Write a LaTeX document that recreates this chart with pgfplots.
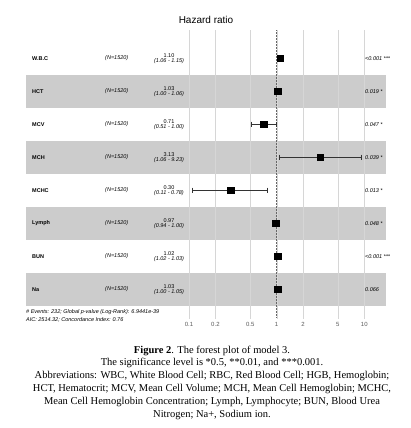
\documentclass[border=0pt]{standalone}
\usepackage{fontspec}
\setmainfont{Liberation Sans}
\newfontfamily\capfont{Liberation Serif}
\usepackage{pgfplots}
\usepackage{pgfplotstable}
\pgfplotsset{compat=1.18}

\definecolor{band}{RGB}{204,204,204}
\definecolor{gridc}{RGB}{214,214,214}

% hazard ratios, one row per variable (8 = top row)
\pgfplotstableread{
row hr
8 1.10
7 1.03
6 0.71
5 3.13
4 0.30
3 0.97
2 1.02
1 1.03
}\hrdata

% confidence intervals, segments separated by nan
\pgfplotstableread{
x y
1.06 8
1.15 8
nan nan
1.00 7
1.06 7
nan nan
0.51 6
1.00 6
nan nan
1.06 5
9.23 5
nan nan
0.11 4
0.78 4
nan nan
0.94 3
1.00 3
nan nan
1.02 2
1.03 2
nan nan
1.00 1
1.05 1
}\cidata

\newcommand{\rowy}[1]{109+(#1-0.1)*33}
\newcommand{\rowfont}{\fontsize{5.5}{6}\selectfont}

\begin{document}
\begin{tikzpicture}[x=1pt,y=1pt]
\path[use as bounding box] (0,0) rectangle (411,428);

% shaded rows
\foreach \r in {7,5,3,1}
  \fill[band] (26,{\rowy{\r}-16.5}) rectangle (386,{\rowy{\r}+16.5});

\begin{axis}[
    at={(26pt,109pt)}, anchor=south west,
    scale only axis, width=360pt, height=289pt,
    xmode=log, xmin=0.001378, xmax=17.69,
    ymin=0.1, ymax=8.86,
    xtick={0.1,0.2,0.5,1,2,5,10},
    xticklabels={0.1,0.2,0.5,1,2,5,10},
    ytick=\empty,
    xmajorgrids,
    major grid style={gridc, line width=0.3pt},
    axis line style={draw=none},
    tick style={draw=none},
    xticklabel style={font=\fontsize{6}{7}\selectfont, text=black!65, inner sep=0pt, yshift=-3pt},
    clip=false,
]
\addplot[black!60, densely dotted, line width=0.5pt] coordinates {(1,0.16) (1,8.86)};
\addplot[black!80, line width=0.5pt, mark=|, mark size=2.6pt, unbounded coords=jump] table[x=x,y=y] {\cidata};
\addplot[only marks, mark=square*, mark size=3.3pt, black] table[x=hr,y=row] {\hrdata};
\end{axis}

\node[font=\fontsize{10}{12}\selectfont] at (206,408) {Hazard ratio};

\foreach \r/\nm/\hr/\ci/\p in {
    8/W.B.C/1.10/1.06 - 1.15/{<0.001 ***},
    7/HCT/1.03/1.00 - 1.06/{0.019 *},
    6/MCV/0.71/0.51 - 1.00/{0.047 *},
    5/MCH/3.13/1.06 - 9.23/{0.039 *},
    4/MCHC/0.30/0.11 - 0.78/{0.013 *},
    3/Lymph/0.97/0.94 - 1.00/{0.048 *},
    2/BUN/1.02/1.02 - 1.03/{<0.001 ***},
    1/Na/1.03/1.00 - 1.05/{0.066}} {
  \node[anchor=west, inner sep=0pt, font=\bfseries\rowfont] at (32,{\rowy{\r}}) {\nm};
  \node[anchor=west, inner sep=0pt, font=\itshape\rowfont] at (105,{\rowy{\r}}) {(N=1520)};
  \node[inner sep=0pt, font=\rowfont] at (169,{\rowy{\r}+3}) {\hr};
  \node[inner sep=0pt, font=\itshape\rowfont] at (169,{\rowy{\r}-3}) {(\ci)};
  \node[anchor=west, inner sep=0pt, font=\itshape\rowfont] at (365,{\rowy{\r}}) {\p};
}

\node[anchor=west, inner sep=0pt, font=\itshape\rowfont] at (26,116) {\# Events: 232; Global p-value (Log-Rank): 6.9441e-39};
\node[anchor=west, inner sep=0pt, font=\itshape\rowfont] at (26,108) {AIC: 2514.32; Concordance Index: 0.76};

\node[anchor=north, inner sep=0pt, align=center, font=\capfont\fontsize{10.5}{12.8}\selectfont] at (212,82.5) {%
\textbf{Figure 2}. The forest plot of model 3.\\
The significance level is *0.5, **0.01, and ***0.001.\\
Abbreviations: WBC, White Blood Cell; RBC, Red Blood Cell; HGB, Hemoglobin;\\
HCT, Hematocrit; MCV, Mean Cell Volume; MCH, Mean Cell Hemoglobin; MCHC,\\
Mean Cell Hemoglobin Concentration; Lymph, Lymphocyte; BUN, Blood Urea\\
Nitrogen; Na+, Sodium ion.};
\end{tikzpicture}
\end{document}
